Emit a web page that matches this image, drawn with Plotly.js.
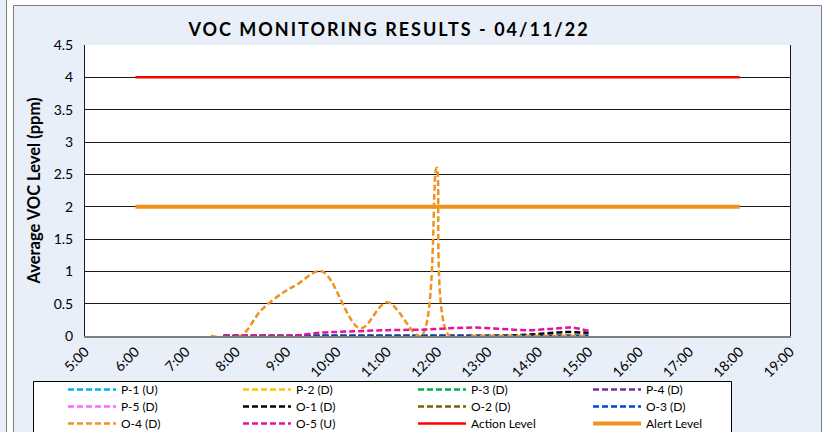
<!DOCTYPE html>
<html><head><meta charset="utf-8">
<script src="https://cdn.plot.ly/plotly-3.0.1.min.js"></script>
<style>html,body{margin:0;padding:0;background:#fff} .gtitle{letter-spacing:2px}</style>
</head><body><div id="chart" style="width:825px;height:432px"></div>
<script>
// ---- data ----
const xTickVals = [5,6,7,8,9,10,11,12,13,14,15,16,17,18,19];
const xTickText = ['5:00','6:00','7:00','8:00','9:00','10:00','11:00','12:00','13:00','14:00','15:00','16:00','17:00','18:00','19:00'];

const zeroTimes = ['7:45','8:30','9:00','10:00','11:00','12:00','13:00','14:00','15:00'];
const zeroValues = [0,0,0,0,0,0,0,0,0];

const o1Times = ['7:45','9:00','10:00','11:00','12:00','13:00','13:30','14:00','14:30','15:00'];
const o1Values = [0,0,0,0,0,0,0.01,0.03,0.06,0.05];

const o4Times = ['7:30','8:05','8:30','8:57','9:12','9:42','10:28','11:00','11:40','11:59','12:14','12:45','13:30','14:15','15:00'];
const o4Values = [0,0,0.4,0.68,0.79,1.0,0.12,0.52,0,2.6,0,0,0,0,0];

const o5Times = ['7:45','8:00','8:30','9:05','9:40','10:15','11:00','11:45','12:15','12:45','13:15','13:45','14:15','14:40','15:00'];
const o5Values = [0,0,0,0,0.05,0.07,0.09,0.1,0.12,0.13,0.11,0.09,0.11,0.13,0.08];

const levelTimes = ['6:00','18:00'];
const actionValues = [4,4];
const alertValues = [2,2];

const seriesNames = ['P-1 (U)','P-2 (D)','P-3 (D)','P-4 (D)','P-5 (D)','O-1 (D)','O-2 (D)','O-3 (D)','O-4 (D)','O-5 (U)','Action Level','Alert Level'];

// ---- helpers ----
const toH = s => { const [h,m] = s.split(':').map(Number); return h + m/60; };
const W = 825, H = 432, L = 85, R = 790, T = 45, B = 336;
const px = x => (x - L) / (R - L);
const py = y => (B - y) / (B - T);

const colors = ['#00B0F0','#FFC000','#00B050','#7030A0','#FF66FF','#000000','#7F6000','#0046D5','#EF931E','#E4139A','#FF0000','#EF931E'];
const dataSets = [
  [zeroTimes, zeroValues],[zeroTimes, zeroValues],[zeroTimes, zeroValues],[zeroTimes, zeroValues],[zeroTimes, zeroValues],
  [o1Times, o1Values],[zeroTimes, zeroValues],[zeroTimes, zeroValues],
  [o4Times, o4Values],[o5Times, o5Values],
  [levelTimes, actionValues],[levelTimes, alertValues]
];
const traces = dataSets.map((d, i) => {
  const isLevel = i >= 10;
  return {
    x: d[0].map(toH), y: d[1], name: seriesNames[i], type: 'scatter', mode: 'lines',
    line: {color: colors[i], width: isLevel ? (i === 11 ? 4 : 2.5) : 2.5, dash: isLevel ? 'solid' : '6px,3px', shape: isLevel ? 'linear' : 'spline', smoothing: 1},
    hoverinfo: 'skip'
  };
});

const font = 'Lato, "Open Sans", sans-serif';
const layout = {
  width: W, height: H,
  margin: {l: L, r: W - R, t: T, b: H - B, pad: 0, autoexpand: false},
  paper_bgcolor: '#ffffff', plot_bgcolor: 'rgba(0,0,0,0)',
  font: {family: font, color: '#000', size: 14},
  title: {text: '<b>VOC MONITORING RESULTS - 04/11/22</b>', x: 389/W, xref: 'container', xanchor: 'center', y: 1 - 30/H, yref: 'container', yanchor: 'middle', font: {size: 18, family: font, color: '#000'}},
  xaxis: {range: [5, 19], tickvals: xTickVals, ticktext: xTickText, tickangle: -45, showgrid: false, zeroline: false, showline: true, linecolor: '#808080', linewidth: 2, ticks: '', tickfont: {size: 14}, fixedrange: true, automargin: false},
  yaxis: {range: [0, 4.5], dtick: 0.5, tick0: 0, showgrid: true, gridcolor: '#1a1a1a', gridwidth: 1, zeroline: false, showline: true, mirror: true, linecolor: '#1a1a1a', linewidth: 1, ticks: '', ticklabelstandoff: 8, tickfont: {size: 14},
          title: {text: '<b>Average VOC Level (ppm)</b>', font: {size: 16.5}, standoff: 8}, fixedrange: true, automargin: false},
  showlegend: true,
  legend: {orientation: 'h', xref: 'container', yref: 'container', x: 63/W, xanchor: 'left', y: 1 - 375/H, yanchor: 'top', entrywidth: 112, entrywidthmode: 'pixels', bgcolor: 'rgba(0,0,0,0)', borderwidth: 0, font: {size: 12, family: font}, itemwidth: 48, traceorder: 'normal'},
  shapes: [
    {type: 'rect', xref: 'paper', yref: 'paper', x0: px(13.5), x1: px(821.5), y0: py(5.5), y1: py(450), fillcolor: '#E8EFF8', line: {color: '#7F7F7F', width: 1}, layer: 'below'},
    {type: 'rect', xref: 'paper', yref: 'paper', x0: px(0), x1: px(6), y0: py(-5), y1: py(450), fillcolor: '#E8EFF8', line: {width: 0}, layer: 'below'},
    {type: 'line', xref: 'paper', yref: 'paper', x0: px(6.5), x1: px(6.5), y0: py(-5), y1: py(450), line: {color: '#7F7F7F', width: 1}, layer: 'below'},
    {type: 'rect', xref: 'paper', yref: 'paper', x0: 0, x1: 1, y0: 0, y1: 1, fillcolor: '#ffffff', line: {width: 0}, layer: 'below'},
    {type: 'rect', xref: 'paper', yref: 'paper', x0: px(33.5), x1: px(731.5), y0: py(381.5), y1: py(450), fillcolor: '#ffffff', line: {color: '#000', width: 1}, layer: 'below'}
  ]
};
Plotly.newPlot('chart', traces, layout, {staticPlot: true, displayModeBar: false}).then(gd => {
  // tighten legend row spacing to match the reference (17px rows)
  const items = Array.from(gd.querySelectorAll('.legend .traces'));
  const parsed = items.map(el => {
    const m = /translate\(\s*([-\d.]+)[ ,]+([-\d.]+)\s*\)/.exec(el.getAttribute('transform') || '');
    return m ? {el, x: +m[1], y: +m[2]} : null;
  }).filter(Boolean);
  const ys = Array.from(new Set(parsed.map(p => p.y))).sort((a, b) => a - b);
  parsed.forEach(p => {
    const row = ys.indexOf(p.y);
    p.el.setAttribute('transform', `translate(${p.x},${ys[0] + row * 17})`);
  });
});
</script></body></html>
